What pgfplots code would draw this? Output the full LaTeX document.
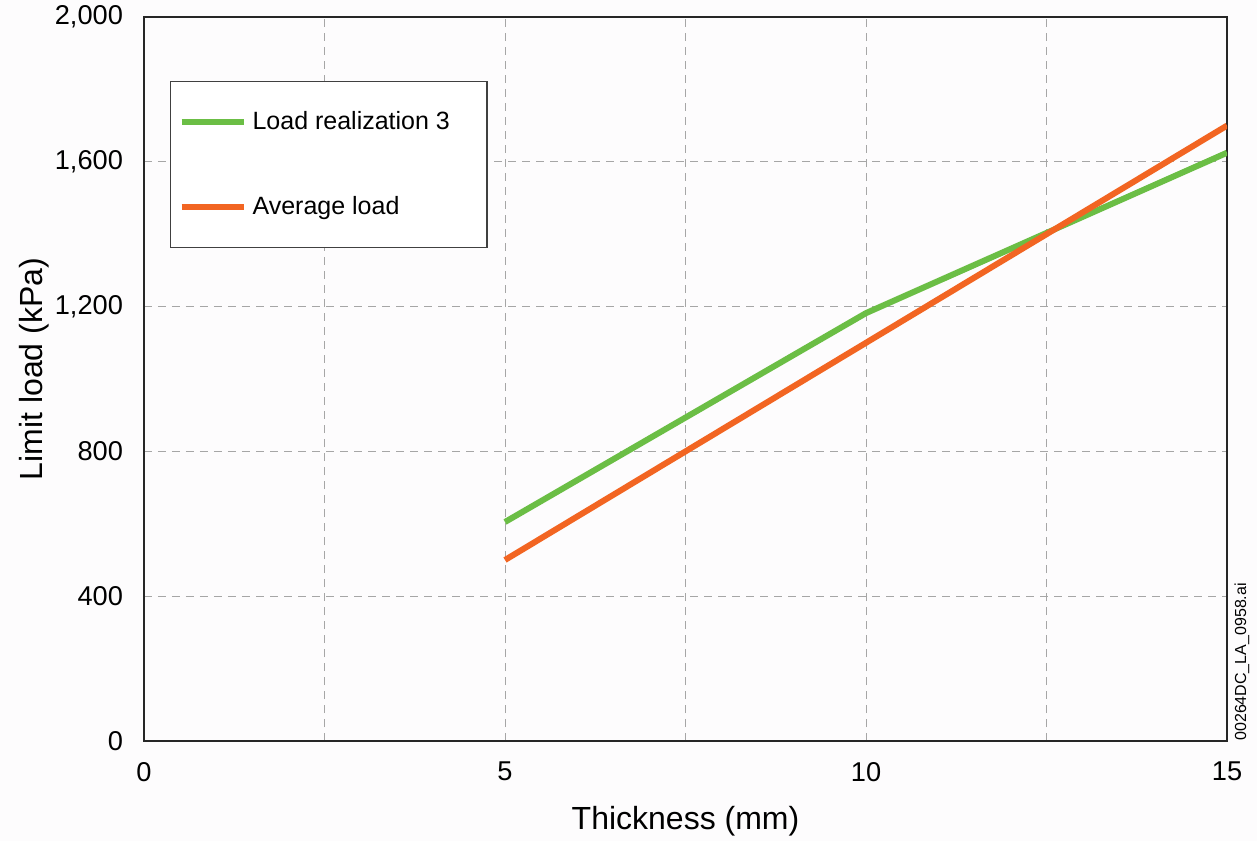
\documentclass[border=0pt]{standalone}
\usepackage{fontspec}
\setmainfont{Liberation Sans}
\usepackage{pgfplots}
\pgfplotsset{compat=1.18}
\definecolor{lgreen}{HTML}{6BBE45}
\definecolor{lorange}{HTML}{F26522}
\definecolor{bg}{HTML}{FDFCFD}
\begin{document}
\begin{tikzpicture}
\useasboundingbox[fill=bg] (-72pt,-50pt) rectangle (556.5pt,370.5pt);
\begin{axis}[
  at={(0,0)}, anchor=south west,
  scale only axis, width=541.5pt, height=362pt,
  xmin=0, xmax=15, ymin=0, ymax=2000,
  xtick={0,5,10,15}, minor xtick={2.5,7.5,12.5},
  ytick={0,400,800,1200,1600,2000},
  grid=both,
  major grid style={gray!70, line width=0.5pt, dash pattern=on 4pt off 3pt},
  minor grid style={gray!70, line width=0.5pt, dash pattern=on 4pt off 3pt},
  major tick length=0pt, minor tick length=0pt,
  axis line style={line width=1.4pt, black!85},
  /pgf/number format/assume math mode=true,
  /pgf/number format/1000 sep={,},
  ticklabel style={font=\fontsize{13.6}{16}\selectfont},
  yticklabel style={xshift=-7pt},
  xticklabel style={yshift=-7pt},
  xlabel={Thickness (mm)}, ylabel={Limit load (kPa)},
  label style={font=\fontsize{16}{19}\selectfont},
  xlabel style={yshift=-5.5pt},
  ylabel style={yshift=-4pt, xshift=5pt},
  legend style={at={(13pt,330pt)}, anchor=north west, draw=black!75, line width=0.6pt,
    fill=white, font=\fontsize{12.5}{14}\selectfont, inner xsep=4pt, inner ysep=13pt,
    row sep=28pt, cells={anchor=west}},
  legend image code/.code={\draw[#1, line width=3pt] (0pt,0pt) -- (31pt,0pt);},
  legend cell align=left,
]
\addplot[lgreen, line width=3pt] coordinates {(5,605) (10,1182) (15,1625)};
\addlegendentry{\hspace{1pt}Load realization 3\hspace{12.5pt}\rule{0pt}{0pt}}
\addplot[lorange, line width=3pt] coordinates {(5,500) (10,1100) (15,1700)};
\addlegendentry{\hspace{1pt}Average load}
\end{axis}
\node[rotate=90, anchor=west, font=\fontsize{8}{9}\selectfont, inner sep=0pt] at (549pt,0pt) {00264DC\_LA\_0958.ai};
\end{tikzpicture}
\end{document}
